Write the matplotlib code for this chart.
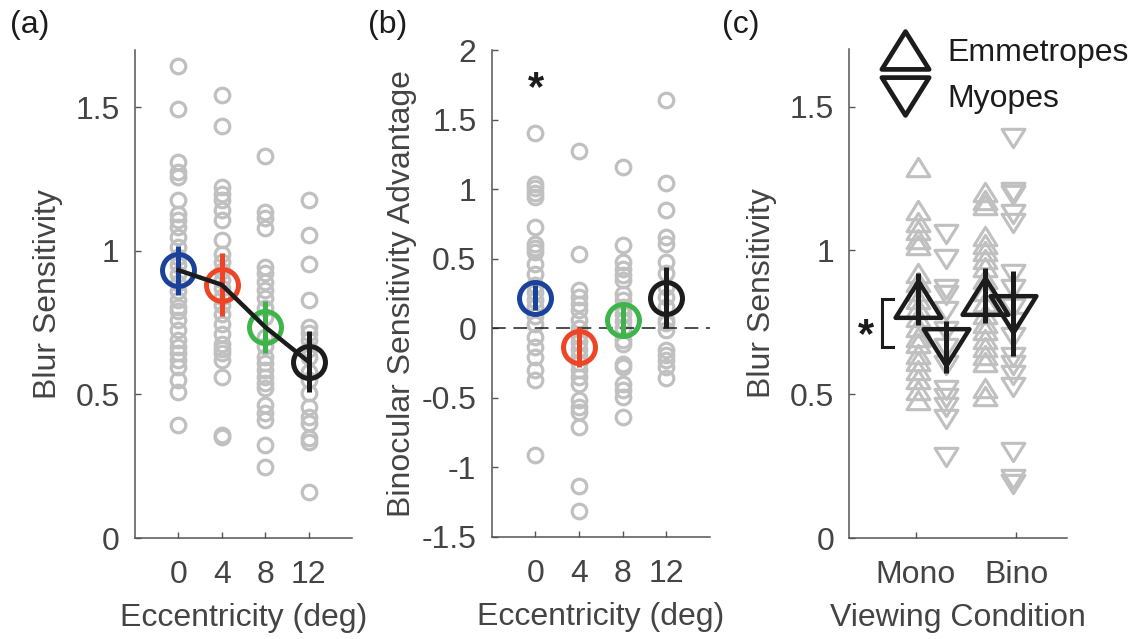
import numpy as np
import matplotlib.pyplot as plt
from matplotlib.path import Path
from matplotlib.markers import MarkerStyle
from matplotlib.lines import Line2D

plt.rcParams['font.family'] = ['Liberation Sans', 'DejaVu Sans']
plt.rcParams['axes.unicode_minus'] = False

#---------------------------------
# Data
#---------------------------------

ECC = [0, 4, 8, 12]

# (a) blur sensitivity per observer at each eccentricity
sens_0 = [1.643, 1.496, 1.31, 1.275, 1.258, 1.176, 1.13, 1.107, 1.084, 1.049, 1.014,
          0.98, 0.95, 0.92, 0.89, 0.86, 0.828, 0.805, 0.79, 0.759, 0.724, 0.689,
          0.666, 0.643, 0.62, 0.596, 0.55, 0.509, 0.393]
sens_4 = [1.542, 1.434, 1.223, 1.2, 1.176, 1.142, 1.107, 1.037, 0.99, 0.96, 0.93,
          0.9, 0.87, 0.84, 0.81, 0.782, 0.747, 0.712, 0.677, 0.66, 0.643, 0.62,
          0.561, 0.36, 0.352]
sens_8 = [1.33, 1.136, 1.114, 1.079, 0.944, 0.923, 0.892, 0.863, 0.835, 0.80, 0.77,
          0.70, 0.67, 0.631, 0.608, 0.585, 0.561, 0.54, 0.522, 0.463, 0.434, 0.41,
          0.324, 0.248]
sens_12 = [1.179, 1.055, 0.956, 0.828, 0.735, 0.714, 0.69, 0.66, 0.63, 0.58, 0.55,
           0.504, 0.457, 0.422, 0.399, 0.347, 0.335, 0.161]
sens_mean = [0.933, 0.882, 0.735, 0.614]
sens_err = [0.085, 0.11, 0.09, 0.107]

# (b) binocular advantage per observer at each eccentricity
adv_0 = [1.40, 1.04, 1.007, 0.97, 0.94, 0.729, 0.609, 0.575, 0.547, 0.465, 0.39,
         0.31, 0.26, 0.2, 0.15, 0.09, 0.034, -0.063, -0.134, -0.206, -0.302,
         -0.374, -0.914]
adv_4 = [1.273, 0.537, 0.273, 0.225, 0.177, 0.129, 0.058, 0.0, -0.05, -0.1, -0.15,
         -0.2, -0.25, -0.3, -0.35, -0.398, -0.518, -0.566, -0.6, -0.71, -1.13, -1.31]
adv_8 = [1.16, 0.60, 0.477, 0.429, 0.381, 0.345, 0.25, 0.2, 0.15, 0.1, 0.05, 0.0,
         -0.086, -0.11, -0.254, -0.278, -0.398, -0.446, -0.494, -0.64]
adv_12 = [1.64, 1.041, 0.849, 0.657, 0.609, 0.477, 0.40, 0.3, 0.225, 0.15, 0.058,
          0.036, -0.014, -0.158, -0.19, -0.23, -0.28, -0.36]
adv_mean = [0.218, -0.134, 0.058, 0.221]
adv_err = [0.09, 0.144, 0.115, 0.216]

# (c) blur sensitivity by viewing condition and refractive group
VIEW = ['Mono', 'Bino']
mono_emm = [1.29, 1.14, 1.10, 1.07, 1.04, 1.02, 0.92, 0.89, 0.86, 0.83, 0.80, 0.77,
            0.735, 0.70, 0.678, 0.64, 0.614, 0.585, 0.553, 0.513, 0.48]
mono_myo = [1.058, 0.971, 0.867, 0.846, 0.788, 0.72, 0.66, 0.60, 0.513, 0.487,
            0.456, 0.414, 0.283]
bino_emm = [1.203, 1.174, 1.157, 1.049, 1.023, 0.997, 0.971, 0.942, 0.90, 0.86,
            0.82, 0.78, 0.747, 0.722, 0.693, 0.664, 0.635, 0.612, 0.521, 0.495]
bino_myo = [1.389, 1.203, 1.191, 1.128, 1.095, 0.919, 0.867, 0.80, 0.75, 0.70,
            0.629, 0.60, 0.565, 0.524, 0.30, 0.205, 0.188]
emm_mean = [0.831, 0.843]
emm_err = [0.09, 0.096]
myo_mean = [0.663, 0.779]
myo_err = [0.09, 0.148]

#---------------------------------
# Style
#---------------------------------

GRAY = '#c0c0c0'
BLACK = '#1c1c1c'
AXC = '#555555'
TXT = '#444444'
COLORS = ['#1b429b', '#ee4526', '#3db54a', BLACK]
FS = 23

TRI_UP = MarkerStyle(Path([(0, 0.8), (-1, -0.8), (1, -0.8), (0, 0.8)], closed=True),
                     joinstyle='miter')
TRI_DN = MarkerStyle(Path([(0, -0.8), (-1, 0.8), (1, 0.8), (0, -0.8)], closed=True),
                     joinstyle='miter')


def style_axes(ax):
    for s in ['top', 'right']:
        ax.spines[s].set_visible(False)
    for s in ['left', 'bottom']:
        ax.spines[s].set_color(AXC)
        ax.spines[s].set_linewidth(1.1)
    ax.tick_params(direction='in', length=4, width=1, color=AXC,
                   labelsize=FS, labelcolor=TXT)
    ax.tick_params(axis='y', pad=11)
    ax.tick_params(axis='x', pad=16)


def scatter_cols(ax, x, vals, ms, mew, marker='o'):
    ax.plot(np.full(len(vals), x), vals, ls='none', marker=marker, mfc='none',
            mec=GRAY, ms=ms, mew=mew, zorder=1, clip_on=False)


fig = plt.figure(figsize=(11.34, 6.39), dpi=100)
axA = fig.add_axes([135 / 1134, 101 / 639, 217 / 1134, 488 / 639])
axB = fig.add_axes([491.7 / 1134, 102 / 639, 218.3 / 1134, 487 / 639])
axC = fig.add_axes([849.3 / 1134, 101 / 639, 217.4 / 1134, 489 / 639])

#---------------------------------
# (a) sensitivity vs eccentricity
#---------------------------------

for x, v in zip(ECC, [sens_0, sens_4, sens_8, sens_12]):
    scatter_cols(axA, x, v, 10.5, 2.3)
for x, m, e, c in zip(ECC, sens_mean, sens_err, COLORS):
    axA.errorbar(x, m, yerr=e, fmt='o', color=c, mfc='none', ms=23, mew=3.6,
                 elinewidth=3.6, capsize=0, zorder=3)
axA.plot(ECC, sens_mean, color=BLACK, lw=3.2, zorder=4)
axA.set_xlim(-4, 16)
axA.set_ylim(0, 1.7)
axA.set_xticks(ECC)
axA.set_yticks([0, 0.5, 1, 1.5])
axA.set_yticklabels(['0', '0.5', '1', '1.5'])
axA.set_xlabel('Eccentricity (deg)', fontsize=FS, color=TXT, labelpad=9)
axA.set_ylabel('Blur Sensitivity', fontsize=FS, color=TXT, labelpad=9)
style_axes(axA)

#---------------------------------
# (b) binocular advantage
#---------------------------------

for x, v in zip(ECC, [adv_0, adv_4, adv_8, adv_12]):
    scatter_cols(axB, x, v, 10.5, 2.3)
axB.axhline(0, color=BLACK, lw=1.1, dashes=(9, 5), zorder=2)
for x, m, e, c in zip(ECC, adv_mean, adv_err, COLORS):
    axB.errorbar(x, m, yerr=e, fmt='o', color=c, mfc='none', ms=23, mew=3.6,
                 elinewidth=3.6, capsize=0, zorder=3)
axB.text(0.1, 1.72, '*', fontsize=30, fontweight='bold', color=BLACK,
         ha='center', va='center')
axB.set_xlim(-4, 16)
axB.set_ylim(-1.5, 2)
axB.set_xticks(ECC)
axB.set_yticks([-1.5, -1, -0.5, 0, 0.5, 1, 1.5, 2])
axB.set_yticklabels(['-1.5', '-1', '-0.5', '0', '0.5', '1', '1.5', '2'])
axB.set_xlabel('Eccentricity (deg)', fontsize=FS, color=TXT, labelpad=9)
axB.set_ylabel('Binocular Sensitivity Advantage', fontsize=FS, color=TXT, labelpad=3)
style_axes(axB)

#---------------------------------
# (c) mono vs bino, emmetropes vs myopes
#---------------------------------

emm_x = [1.02, 1.69]
myo_x = [1.30, 1.97]
for x, v in zip(emm_x, [mono_emm, bino_emm]):
    scatter_cols(axC, x, v, 16.5, 2.2, marker=TRI_UP)
for x, v in zip(myo_x, [mono_myo, bino_myo]):
    scatter_cols(axC, x, v, 16.5, 2.2, marker=TRI_DN)
axC.errorbar(emm_x, emm_mean, yerr=emm_err, fmt='none', ecolor=BLACK,
             elinewidth=3.6, capsize=0, zorder=3)
axC.errorbar(myo_x, myo_mean, yerr=myo_err, fmt='none', ecolor=BLACK,
             elinewidth=3.6, capsize=0, zorder=3)
axC.plot(emm_x, emm_mean, ls='none', marker=TRI_UP, mfc='none', mec=BLACK,
         ms=33, mew=3.2, zorder=4)
axC.plot(myo_x, myo_mean, ls='none', marker=TRI_DN, mfc='none', mec=BLACK,
         ms=33, mew=3.2, zorder=4)

# significance bracket between the two monocular means
axC.plot([0.77, 0.66, 0.66, 0.77], [emm_mean[0], emm_mean[0], myo_mean[0], myo_mean[0]],
         color=BLACK, lw=2.2, clip_on=False, solid_joinstyle='miter')
axC.text(0.51, (emm_mean[0] + myo_mean[0]) / 2 - 0.045, '*', fontsize=30,
         fontweight='bold', color=BLACK, ha='center', va='center')

axC.set_xlim(0.34, 2.5)
axC.set_ylim(0, 1.7)
axC.set_xticks([1, 2])
axC.set_xticklabels(VIEW)
axC.set_yticks([0, 0.5, 1, 1.5])
axC.set_yticklabels(['0', '0.5', '1', '1.5'])
axC.set_xlabel('Viewing Condition', fontsize=FS, color=TXT, labelpad=9)
axC.set_ylabel('Blur Sensitivity', fontsize=FS, color=TXT, labelpad=9)
style_axes(axC)

handles = [Line2D([], [], ls='none', marker=TRI_UP, mfc='none', mec=BLACK, ms=34, mew=3.4),
           Line2D([], [], ls='none', marker=TRI_DN, mfc='none', mec=BLACK, ms=34, mew=3.4)]
fig.legend(handles, ['Emmetropes', 'Myopes'], loc='upper left',
           bbox_to_anchor=(883 / 1134, 1 - 38 / 639), frameon=False, fontsize=FS,
           handlelength=1.4, handletextpad=0.6, labelspacing=0.5,
           borderpad=0, borderaxespad=0, labelcolor=BLACK)

for x, lab in zip([10, 368, 722], ['(a)', '(b)', '(c)']):
    fig.text(x / 1134, 1 - 10 / 639, lab, fontsize=FS, color=BLACK, va='top', ha='left')

fig.savefig('out.png', dpi=100)
